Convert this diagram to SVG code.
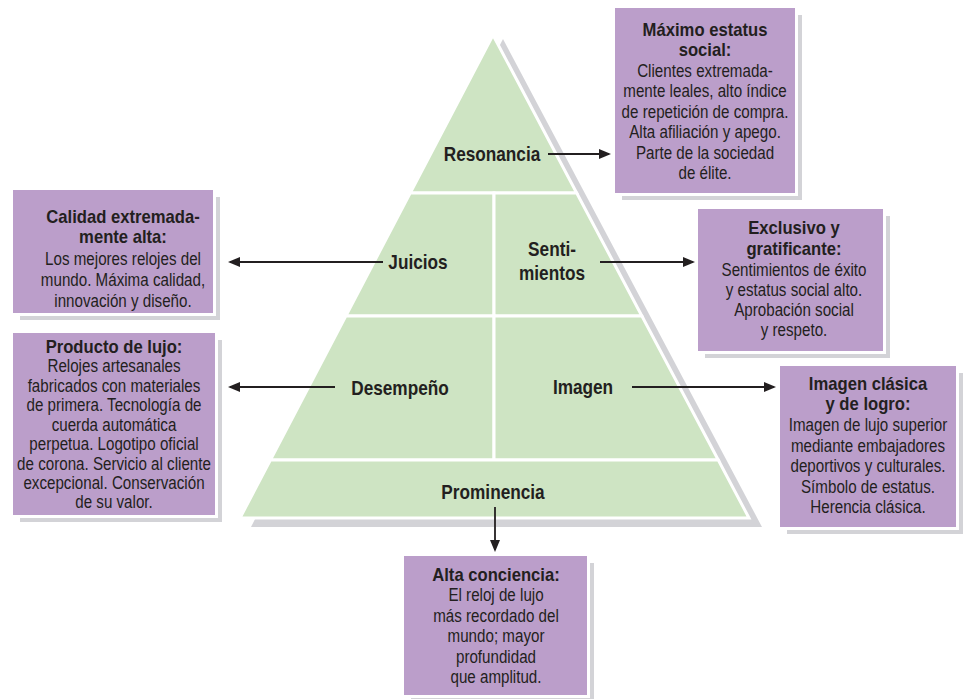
<svg xmlns="http://www.w3.org/2000/svg" width="963" height="699" viewBox="0 0 963 699">
<defs>
<style>
.t{font-family:"Liberation Sans",Arial,sans-serif;fill:#231f20;text-anchor:middle}
.body{font-size:18.5px}
.ti{font-size:18.5px;font-weight:bold}
.lbl{font-size:21px;font-weight:bold}
.box{fill:#bb9eca}
.gap{fill:#ffffff}
.sh{fill:#d3d3d7}
.sec{fill:#cee4c3;stroke:#ffffff;stroke-width:3;stroke-linejoin:miter}
.con{stroke:#231f20;stroke-width:1.8;fill:none;marker-end:url(#ah)}
</style>
<marker id="ah" viewBox="0 0 12 10" refX="10" refY="5" markerWidth="12" markerHeight="10" markerUnits="userSpaceOnUse" orient="auto">
<path d="M0,0 L12,5 L0,10 z" fill="#231f20"/>
</marker>
</defs>
<rect width="963" height="699" fill="#ffffff"/>

<polygon id="pyramid-shadow" points="503,39 762,527 251,527" class="sh"/>

<g id="resonancia">
<polygon class="sec" points="493,35 576.7,193 410.2,193"/>
<text class="t lbl" transform="translate(492,161) scale(0.82,1)">Resonancia</text>
</g>
<g id="juicios">
<polygon class="sec" points="410.2,193 494,193 494,316 345.8,316"/>
<text class="t lbl" transform="translate(418,269) scale(0.82,1)">Juicios</text>
</g>
<g id="sentimientos">
<polygon class="sec" points="494,193 576.7,193 641.9,316 494,316"/>
<text class="t lbl" transform="translate(552,256) scale(0.82,1)">Senti-</text>
<text class="t lbl" transform="translate(552,280) scale(0.82,1)">mientos</text>
</g>
<g id="desempeno">
<polygon class="sec" points="345.8,316 494,316 494,460 270.4,460"/>
<text class="t lbl" transform="translate(400,395) scale(0.82,1)">Desempeño</text>
</g>
<g id="imagen">
<polygon class="sec" points="494,316 641.9,316 718.3,460 494,460"/>
<text class="t lbl" transform="translate(583,394) scale(0.82,1)">Imagen</text>
</g>
<g id="prominencia">
<polygon class="sec" points="270.4,460 718.3,460 749,518 240,518"/>
<text class="t lbl" transform="translate(493,499) scale(0.82,1)">Prominencia</text>
</g>

<g id="connectors">
<line class="con" x1="548" y1="154" x2="609" y2="154"/>
<line class="con" x1="383" y1="262" x2="230" y2="262"/>
<line class="con" x1="600" y1="262" x2="693" y2="262"/>
<line class="con" x1="335" y1="387" x2="230" y2="387"/>
<line class="con" x1="632" y1="387" x2="774" y2="387"/>
<line class="con" x1="495" y1="507" x2="495" y2="550"/>
</g>

<g id="box-maximo">
<rect class="sh" x="622" y="15" width="180" height="185"/>
<rect class="gap" x="615" y="8" width="183" height="188"/>
<rect class="box" x="615" y="8" width="180" height="185"/>
<g transform="translate(705,0) scale(0.9,1)">
<text class="t ti" y="36">Máximo estatus</text>
<text class="t ti" y="56">social:</text>
</g>
<g transform="translate(705,0) scale(0.82,1)">
<text class="t body" y="77">Clientes extremada-</text>
<text class="t body" y="97">mente leales, alto índice</text>
<text class="t body" y="118">de repetición de compra.</text>
<text class="t body" y="138">Alta afiliación y apego.</text>
<text class="t body" y="159">Parte de la sociedad</text>
<text class="t body" y="179">de élite.</text>
</g>
</g>

<g id="box-calidad">
<rect class="sh" x="20" y="197" width="200" height="123"/>
<rect class="gap" x="13" y="190" width="203" height="126"/>
<rect class="box" x="13" y="190" width="200" height="123"/>
<g transform="translate(123,0) scale(0.9,1)">
<text class="t ti" y="223">Calidad extremada-</text>
<text class="t ti" y="243">mente alta:</text>
</g>
<g transform="translate(123,0) scale(0.82,1)">
<text class="t body" y="265">Los mejores relojes del</text>
<text class="t body" y="286">mundo. Máxima calidad,</text>
<text class="t body" y="307">innovación y diseño.</text>
</g>
</g>

<g id="box-producto">
<rect class="sh" x="20" y="340" width="202" height="182"/>
<rect class="gap" x="13" y="333" width="205" height="185"/>
<rect class="box" x="13" y="333" width="202" height="182"/>
<g transform="translate(114,0) scale(0.9,1)">
<text class="t ti" y="353">Producto de lujo:</text>
</g>
<g transform="translate(114,0) scale(0.82,1)">
<text class="t body" y="372">Relojes artesanales</text>
<text class="t body" y="392">fabricados con materiales</text>
<text class="t body" y="411">de primera. Tecnología de</text>
<text class="t body" y="431">cuerda automática</text>
<text class="t body" y="450">perpetua. Logotipo oficial</text>
<text class="t body" y="470">de corona. Servicio al cliente</text>
<text class="t body" y="489">excepcional. Conservación</text>
<text class="t body" y="508">de su valor.</text>
</g>
</g>

<g id="box-exclusivo">
<rect class="sh" x="705" y="216" width="185" height="142"/>
<rect class="gap" x="698" y="209" width="188" height="145"/>
<rect class="box" x="698" y="209" width="185" height="142"/>
<g transform="translate(794,0) scale(0.9,1)">
<text class="t ti" y="234">Exclusivo y</text>
<text class="t ti" y="255">gratificante:</text>
</g>
<g transform="translate(794,0) scale(0.82,1)">
<text class="t body" y="276">Sentimientos de éxito</text>
<text class="t body" y="296">y estatus social alto.</text>
<text class="t body" y="316">Aprobación social</text>
<text class="t body" y="336">y respeto.</text>
</g>
</g>

<g id="box-imagen">
<rect class="sh" x="787" y="373" width="176" height="161"/>
<rect class="gap" x="780" y="366" width="179" height="164"/>
<rect class="box" x="780" y="366" width="176" height="161"/>
<g transform="translate(868,0) scale(0.9,1)">
<text class="t ti" y="390">Imagen clásica</text>
<text class="t ti" y="410">y de logro:</text>
</g>
<g transform="translate(868,0) scale(0.82,1)">
<text class="t body" y="431">Imagen de lujo superior</text>
<text class="t body" y="452">mediante embajadores</text>
<text class="t body" y="472">deportivos y culturales.</text>
<text class="t body" y="493">Símbolo de estatus.</text>
<text class="t body" y="513">Herencia clásica.</text>
</g>
</g>

<g id="box-alta">
<rect class="sh" x="411" y="563" width="183" height="139"/>
<rect class="gap" x="404" y="556" width="186" height="142"/>
<rect class="box" x="404" y="556" width="183" height="139"/>
<g transform="translate(496,0) scale(0.9,1)">
<text class="t ti" y="581">Alta conciencia:</text>
</g>
<g transform="translate(496,0) scale(0.82,1)">
<text class="t body" y="601">El reloj de lujo</text>
<text class="t body" y="622">más recordado del</text>
<text class="t body" y="642">mundo; mayor</text>
<text class="t body" y="663">profundidad</text>
<text class="t body" y="683">que amplitud.</text>
</g>
</g>
</svg>
